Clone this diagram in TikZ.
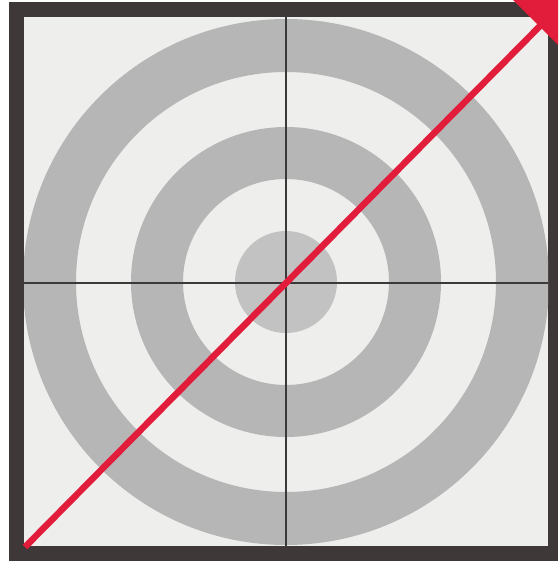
\documentclass[tikz,border=0pt]{standalone}
\begin{document}
\begin{tikzpicture}[x=1pt,y=-1pt,
  ring/.style={fill=ringgray},
  hair/.style={draw=hairc,line width=1.1pt},
  redline/.style={draw=tred,line width=6.5pt}]
\definecolor{ringgray}{HTML}{B6B6B6}
\definecolor{diskgray}{HTML}{C2C2C2}
\definecolor{bgc}{HTML}{EEEEEC}
\definecolor{framec}{HTML}{3E3839}
\definecolor{hairc}{HTML}{3A3A3A}
\definecolor{tred}{HTML}{E21D3B}
\useasboundingbox (0,0) rectangle (558,565);
\fill[white] (0,0) rectangle (558,565);
% frame
\fill[framec] (9,2) rectangle (558,561);
\fill[bgc] (24,17) rectangle (548,546);
\coordinate (c) at (286,282);
\begin{scope}
\clip (24,17) rectangle (548,546);
\fill[ringgray,even odd rule] (c) circle (263) (c) circle (210);
\fill[ringgray,even odd rule] (c) circle (155) (c) circle (103);
\fill[diskgray] (c) circle (51);
\end{scope}
% crosshair
\coordinate (vt) at (286,17);
\coordinate (vb) at (286,546);
\coordinate (hl) at (24,283);
\coordinate (hr) at (548,283);
\draw[hair] (vt) -- (vb);
\draw[hair] (hl) -- (hr);
% red line and arrow
\coordinate (s) at (25,547);
\coordinate (e) at (540,26);
\draw[redline] (s) -- (e);
\begin{scope}
\clip (0,0) rectangle (558,565);
\fill[tred] (513,0) -- (562,-4) -- (558,45) -- cycle;
\end{scope}
\end{tikzpicture}
\end{document}
